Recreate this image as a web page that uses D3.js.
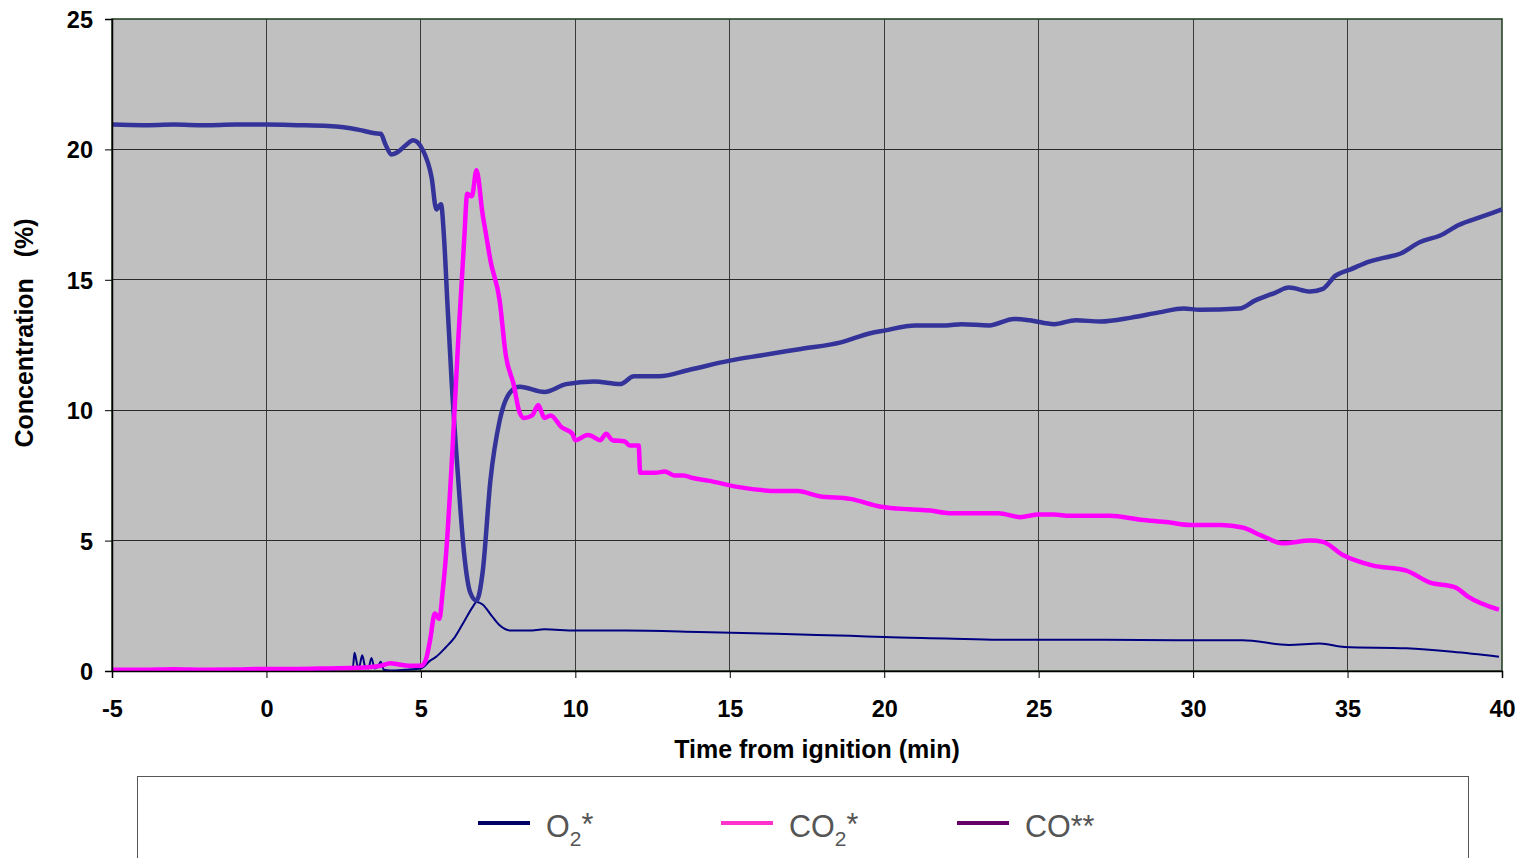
<!DOCTYPE html>
<html><head><meta charset="utf-8">
<script src="https://cdn.jsdelivr.net/npm/d3@7"></script>
<style>body{margin:0;background:#fff;} svg text{font-family:Arial,"Liberation Sans",sans-serif;}</style>
</head><body><svg id="c" width="1523" height="858"></svg>
<script>
const xTicks = [-5,0,5,10,15,20,25,30,35,40];
const yTicks = [0,5,10,15,20,25];
const seriesNames = ["O2*","CO2*","CO**"];

const o2Time = [-5,-4,-3,-2,-1,0,1,2,2.5,3,3.5,3.7,3.85,4.05,4.25,4.5,4.75,5.05,5.35,5.5,5.65,5.75,5.85,6.0,6.2,6.4,6.6,6.8,7.0,7.25,7.55,7.9,8.2,9.0,9.7,10.6,11.45,11.9,12.7,13.7,15,16,17.3,18.6,19.55,20,21,22,22.5,23.4,24.2,24.7,25.5,26.2,27,28,28.9,29.7,30.2,31.5,32,32.65,33.1,33.8,34.2,34.6,35.1,35.7,36.2,36.7,37.35,38,38.6,39.3,40];
const o2Values = [20.95,20.93,20.95,20.93,20.95,20.95,20.93,20.9,20.85,20.75,20.62,20.6,20.2,19.8,19.9,20.15,20.35,20.0,18.9,17.7,17.9,16.6,14.3,11.0,7.5,4.5,3.0,2.7,3.8,7.3,9.6,10.7,10.9,10.7,11.0,11.1,11.0,11.3,11.3,11.55,11.9,12.1,12.35,12.6,12.95,13.05,13.25,13.25,13.3,13.25,13.5,13.45,13.3,13.45,13.4,13.55,13.75,13.9,13.85,13.9,14.2,14.5,14.7,14.55,14.65,15.15,15.4,15.7,15.85,16.0,16.45,16.7,17.1,17.4,17.7];

const co2Time = [-5,-4,-3,-2,-1,0,1,2,3,3.7,4.0,4.3,4.6,4.8,5.0,5.15,5.3,5.45,5.6,5.7,5.8,6.0,6.2,6.4,6.5,6.65,6.8,7.0,7.1,7.25,7.55,7.75,8.0,8.2,8.35,8.6,8.8,9.0,9.2,9.55,9.9,10.0,10.4,10.55,10.8,11.0,11.2,11.6,11.75,12.05,12.1,12.6,12.9,13.2,13.5,13.8,14.3,15.3,16.6,17.2,17.9,18.9,19.9,20.8,21.5,22.1,23.7,24.4,25.0,25.5,26.0,27.3,28.3,29.2,29.9,30.9,31.6,32.2,32.9,33.8,34.2,34.85,35.8,36.9,37.65,38.5,38.9,39.9];
const co2Values = [0.05,0.05,0.07,0.05,0.06,0.08,0.08,0.1,0.12,0.2,0.3,0.25,0.2,0.2,0.2,0.4,1.2,2.2,2.0,3.0,4.25,8.0,12.5,16.5,18.3,18.2,19.2,17.5,16.8,15.75,14.2,12.1,11.0,9.9,9.7,9.8,10.2,9.7,9.8,9.35,9.1,8.85,9.05,9.0,8.85,9.1,8.85,8.8,8.65,8.65,7.6,7.6,7.65,7.5,7.5,7.4,7.3,7.05,6.9,6.9,6.7,6.6,6.3,6.2,6.15,6.05,6.05,5.9,6.0,6.0,5.95,5.95,5.8,5.7,5.6,5.6,5.5,5.2,4.9,5.0,4.95,4.45,4.05,3.85,3.4,3.2,2.85,2.35];

const coTime = [-5,-4,-3,-2,-1,0,1,2,2.6,2.8,2.85,2.95,3.0,3.1,3.2,3.3,3.4,3.5,3.6,3.7,3.8,4.0,4.5,5.0,5.3,5.5,5.8,6.1,6.4,6.7,6.8,7.0,7.3,7.55,7.9,8.5,9.0,10.0,11.6,14.0,17.3,18.9,20.0,22.0,23.7,27.0,29.6,31.6,33.1,34.1,34.9,36.9,38.4,39.9];
const coValues = [0.02,0.03,0.03,0.05,0.03,0.04,0.05,0.06,0.1,0.15,0.7,0.2,0.15,0.6,0.15,0.1,0.5,0.1,0.15,0.35,0.05,0.02,0.05,0.1,0.4,0.55,0.9,1.3,1.9,2.5,2.65,2.55,2.1,1.75,1.55,1.55,1.6,1.55,1.55,1.5,1.4,1.35,1.3,1.25,1.2,1.2,1.18,1.18,1.0,1.05,0.92,0.87,0.74,0.55];

const svg = d3.select("#c");
const L=112,R=1502,T=19,B=671;
const x = d3.scaleLinear().domain([-5,40]).range([L,R]);
const y = d3.scaleLinear().domain([0,25]).range([B,T]);

svg.append("rect").attr("x",L).attr("y",T).attr("width",R-L).attr("height",B-T).attr("fill","#c0c0c0");

svg.append("g").selectAll("line").data(xTicks.slice(1,-1)).join("line")
  .attr("x1",d=>x(d)).attr("x2",d=>x(d)).attr("y1",T).attr("y2",B)
  .attr("stroke","#3a3a3a").attr("stroke-width",1).attr("shape-rendering","crispEdges");
svg.append("g").selectAll("line").data(yTicks.slice(1,-1)).join("line")
  .attr("x1",L).attr("x2",R).attr("y1",d=>y(d)).attr("y2",d=>y(d))
  .attr("stroke","#2a2a2a").attr("stroke-width",1).attr("shape-rendering","crispEdges");

svg.append("rect").attr("x",L).attr("y",T).attr("width",R-L).attr("height",B-T)
  .attr("fill","none").attr("stroke","#1e3a1e").attr("stroke-width",1.5);

const line = d3.line().x(d=>x(d[0])).y(d=>y(d[1])).curve(d3.curveMonotoneX);
const zip=(a,b)=>a.map((t,i)=>[t,b[i]]);
svg.append("clipPath").attr("id","clp").append("rect").attr("x",L).attr("y",T-5).attr("width",R-L+2).attr("height",B-T+5);
const g = svg.append("g").attr("clip-path","url(#clp)");
g.append("path").datum(zip(coTime,coValues)).attr("d",line).attr("fill","none").attr("stroke","#000080").attr("stroke-width",2);
g.append("path").datum(zip(o2Time,o2Values)).attr("d",line).attr("fill","none").attr("stroke","#333399").attr("stroke-width",4.5).attr("stroke-linejoin","round");
g.append("path").datum(zip(co2Time,co2Values)).attr("d",line).attr("fill","none").attr("stroke","#ff00ff").attr("stroke-width",4.5).attr("stroke-linejoin","round");

const fmt = d => String(d);
const xAxis = svg.append("g").attr("transform",`translate(0,${B})`)
  .call(d3.axisBottom(x).tickValues(xTicks).tickSize(7).tickFormat(fmt));
const yAxis = svg.append("g").attr("transform",`translate(${L},0)`)
  .call(d3.axisLeft(y).tickValues(yTicks).tickSize(7).tickPadding(12).tickFormat(fmt));
[xAxis,yAxis].forEach(a=>{
  a.select(".domain").attr("stroke","#000").attr("stroke-width",1.5);
  a.selectAll(".tick line").attr("stroke","#000");
  a.selectAll("text").attr("font-size",23.5).attr("font-weight","bold").attr("fill","#000")
   .style("font-family","Arial, 'Liberation Sans', sans-serif");
});
xAxis.selectAll("text").attr("dy",0).attr("y",46);
yAxis.selectAll("text").attr("dy","0.36em");

svg.append("text").attr("x",817).attr("y",758).attr("text-anchor","middle")
  .attr("font-size",25).attr("font-weight","bold").text("Time from ignition (min)");
svg.append("text").attr("transform","translate(33,333) rotate(-90)").attr("text-anchor","middle")
  .attr("font-size",25).attr("font-weight","bold").style("white-space","pre").text("Concentration   (%)");

svg.append("rect").attr("x",137.5).attr("y",776.5).attr("width",1331).attr("height",100)
  .attr("fill","#fff").attr("stroke","#555").attr("stroke-width",1);
const legColors=["#000066","#ff33cc","#660066"];
const legX=[478,721,957];
seriesNames.forEach((n,i)=>{
  svg.append("line").attr("x1",legX[i]).attr("x2",legX[i]+52).attr("y1",823).attr("y2",823)
    .attr("stroke",legColors[i]).attr("stroke-width",4);
  const t=svg.append("text").attr("x",legX[i]+68).attr("y",837).attr("font-size",30.5).attr("fill","#555");
  if(n.startsWith("O2")||n.startsWith("CO2")){
    const base=n.startsWith("O2")?"O":"CO";
    t.append("tspan").text(base);
    t.append("tspan").attr("font-size",21).attr("dy",9).text("2");
    t.append("tspan").attr("dy",-11).text("*");
  } else t.text(n);
});
</script></body></html>
